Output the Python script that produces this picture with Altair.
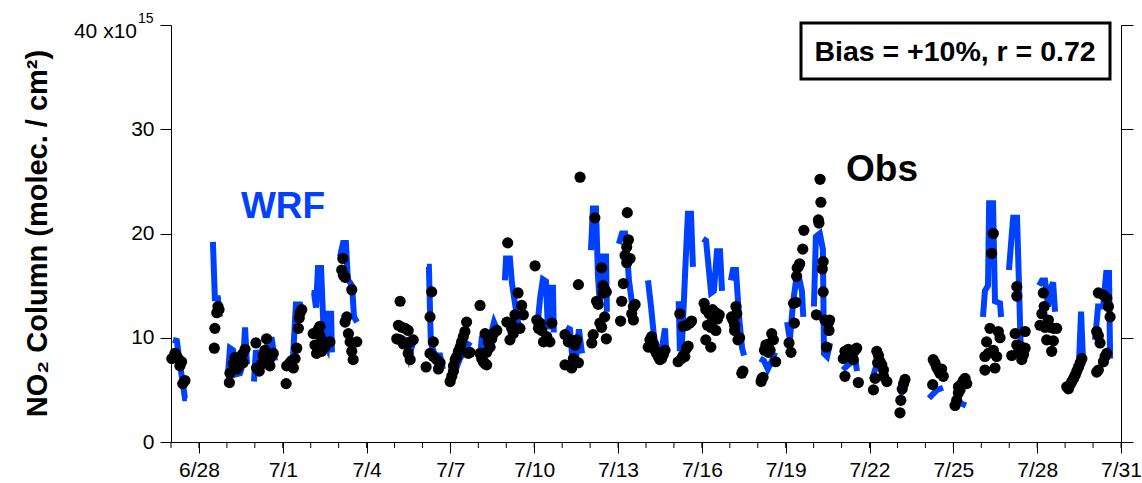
import altair as alt
import pandas as pd

# Time is given in days since 6/27 00:00; one inner list per day.
wrf_time = [
    [0.07, 0.21, 0.32, 0.50, 0.57],                                   # 6/27
    [1.50, 1.57, 1.68, 1.75],                                         # 6/28
    [2.04, 2.11, 2.22, 2.33, 2.47, 2.58, 2.65, 2.72],                 # 6/29
    [2.97, 3.04, 3.19, 3.36, 3.47, 3.61, 3.72],                       # 6/30
    [4.04, 4.22, 4.37, 4.47, 4.62, 4.69],                             # 7/1
    [5.03, 5.12, 5.19, 5.26, 5.37, 5.48, 5.58, 5.64, 5.73, 5.76],     # 7/2
    [6.05, 6.16, 6.26, 6.33, 6.48, 6.55, 6.66],                       # 7/3
    [8.23, 8.38, 8.52, 8.66],                                         # 7/5
    [9.16, 9.23, 9.30, 9.45, 9.63, 9.73],                             # 7/6
    [9.95, 10.17, 10.34, 10.52, 10.70],                               # 7/7
    [11.06, 11.13, 11.27, 11.42, 11.56, 11.67],                       # 7/8
    [11.95, 11.99, 12.13, 12.20, 12.31, 12.42, 12.49],                # 7/9
    [13.03, 13.10, 13.21, 13.31, 13.42, 13.49, 13.56, 13.67, 13.70],  # 7/10
    [14.14, 14.28, 14.35, 14.50, 14.60, 14.71],                       # 7/11
    [15.03, 15.10, 15.21, 15.28, 15.35, 15.46, 15.57, 15.60],         # 7/12
    [16.03, 16.14, 16.25, 16.32, 16.39, 16.50],                       # 7/13
    [17.07, 17.18, 17.29, 17.43, 17.57, 17.68, 17.72],                # 7/14
    [18.17, 18.21, 18.28, 18.36, 18.43, 18.50, 18.61, 18.68],         # 7/15
    [19.04, 19.15, 19.33, 19.43, 19.54, 19.65, 19.72],                # 7/16
    [20.04, 20.11, 20.22, 20.33, 20.44, 20.51],                       # 7/17
    [21.08, 21.22, 21.36, 21.51, 21.62],                              # 7/18
    [22.05, 22.15, 22.26, 22.37, 22.48, 22.58, 22.63],                # 7/19
    [23.01, 23.08, 23.22, 23.33, 23.37, 23.48, 23.59],                # 7/20
    [24.05, 24.19, 24.34, 24.48, 24.55],                              # 7/21
    [25.09, 25.23, 25.37, 25.52, 25.63],                              # 7/22
    [26.09, 26.20],                                                   # 7/23
    [27.13, 27.27, 27.42, 27.63],                                     # 7/24
    [28.13, 28.28, 28.45],                                            # 7/25
    [29.06, 29.13, 29.24, 29.28, 29.42, 29.49, 29.67, 29.71],         # 7/26
    [29.99, 30.14, 30.28, 30.35, 30.42, 30.53],                       # 7/27
    [31.07, 31.17, 31.28, 31.39, 31.49, 31.57, 31.64],                # 7/28
    [32.07, 32.21, 32.35, 32.50, 32.57, 32.64],                       # 7/29
    [33.07, 33.18, 33.36, 33.47, 33.57, 33.61],                       # 7/30
]
wrf_no2 = [
    [9.8, 9.7, 7.5, 4.2, 4.2],
    [19.2, 13.8, 13.8, 12.0],
    [6.5, 9.0, 8.8, 6.5, 6.6, 7.5, 11.0, 7.5],
    [5.8, 8.8, 7.0, 7.5, 9.8, 9.8, 7.8],
    [7.7, 7.2, 8.3, 13.2, 13.2, 12.4],
    [14.3, 14.3, 12.9, 16.7, 16.7, 9.5, 9.0, 12.3, 12.3, 8.6],
    [17.8, 19.1, 19.1, 15.6, 15.0, 12.0, 11.5],
    [10.0, 9.8, 8.2, 9.5],
    [16.8, 16.8, 9.5, 8.3, 8.3, 7.0],
    [5.5, 6.8, 8.0, 8.8, 9.6],
    [8.0, 10.2, 9.3, 10.0, 11.5, 10.8],
    [15.5, 17.6, 17.6, 15.3, 13.3, 11.5, 11.0],
    [12.0, 10.8, 13.8, 15.6, 15.4, 10.8, 14.8, 14.8, 10.5],
    [11.0, 10.8, 8.5, 8.0, 10.8, 8.5],
    [18.4, 22.4, 22.4, 16.0, 13.2, 17.8, 17.8, 12.5],
    [19.0, 20.0, 20.0, 18.2, 15.5, 13.3],
    [15.5, 13.0, 10.0, 8.8, 9.0, 10.9, 8.8],
    [13.5, 9.0, 9.0, 13.8, 18.0, 21.9, 21.9, 16.8],
    [19.5, 19.3, 14.3, 14.5, 18.3, 18.3, 14.5],
    [15.5, 16.5, 16.5, 12.0, 9.0, 8.3],
    [8.0, 7.8, 7.0, 7.8, 8.6],
    [11.5, 9.8, 13.3, 15.5, 15.7, 14.5, 12.0],
    [13.0, 19.7, 20.0, 18.5, 8.5, 8.2, 9.5],
    [6.9, 7.3, 7.6, 8.2, 6.8],
    [6.0, 7.2, 7.8, 6.8, 5.8],
    [5.0, 4.5],
    [4.2, 4.6, 5.0, 5.2],
    [4.0, 3.7, 3.5],
    [12.0, 14.5, 15.0, 22.9, 22.9, 13.5, 13.3, 12.0],
    [16.5, 21.5, 21.5, 15.0, 8.0, 8.0],
    [15.0, 15.5, 15.5, 13.0, 14.8, 15.3, 12.5],
    [5.0, 5.6, 6.5, 7.8, 12.5, 7.8],
    [9.8, 13.0, 13.0, 16.2, 16.2, 8.0],
]

obs_time = [
    [0.03, 0.14, 0.18, 0.26, 0.32, 0.38, 0.42, 0.50],
    [1.55, 1.57, 1.64, 1.68, 1.72],
    [2.09, 2.11, 2.23, 2.29, 2.36, 2.40, 2.47, 2.55, 2.58, 2.65],
    [3.04, 3.06, 3.16, 3.25, 3.30, 3.36, 3.42, 3.51, 3.54, 3.60, 3.66],
    [4.12, 4.14, 4.26, 4.32, 4.38, 4.44, 4.50, 4.56, 4.59, 4.62, 4.68],
    [5.09, 5.15, 5.21, 5.27, 5.33, 5.33, 5.39, 5.39, 5.45, 5.51, 5.57, 5.69],
    [6.11, 6.15, 6.17, 6.23, 6.23, 6.29, 6.35, 6.41, 6.47, 6.47, 6.52, 6.65],
    [8.08, 8.14, 8.20, 8.20, 8.26, 8.32, 8.38, 8.44, 8.49, 8.49, 8.56, 8.56, 8.67],
    [9.13, 9.27, 9.27, 9.33, 9.39, 9.39, 9.51, 9.57, 9.63],
    [9.99, 10.05, 10.11, 10.11, 10.17, 10.23, 10.29, 10.35, 10.40, 10.46, 10.52, 10.58, 10.64, 10.70],
    [11.06, 11.06, 11.12, 11.18, 11.24, 11.24, 11.30, 11.30, 11.36, 11.42, 11.48, 11.54, 11.66],
    [12.02, 12.05, 12.13, 12.19, 12.19, 12.25, 12.31, 12.42, 12.49, 12.55, 12.61],
    [13.03, 13.09, 13.15, 13.21, 13.27, 13.33, 13.45, 13.56, 13.63],
    [14.10, 14.10, 14.22, 14.28, 14.34, 14.40, 14.46, 14.46, 14.52, 14.58, 14.58, 14.64],
    [15.06, 15.11, 15.17, 15.23, 15.29, 15.35, 15.41, 15.41, 15.46, 15.46, 15.52, 15.52, 15.58, 15.58],
    [16.09, 16.13, 16.19, 16.25, 16.31, 16.31, 16.33, 16.37, 16.43, 16.49, 16.55, 16.55, 16.61],
    [17.08, 17.14, 17.20, 17.26, 17.32, 17.38, 17.44, 17.50, 17.50, 17.56, 17.62, 17.68],
    [18.15, 18.21, 18.27, 18.33, 18.33, 18.39, 18.45, 18.45, 18.51, 18.57, 18.63],
    [19.08, 19.14, 19.14, 19.20, 19.26, 19.32, 19.32, 19.38, 19.38, 19.50, 19.50, 19.56, 19.62],
    [20.06, 20.11, 20.17, 20.17, 20.22, 20.25, 20.29, 20.35, 20.43, 20.47],
    [21.12, 21.15, 21.19, 21.24, 21.29, 21.32, 21.38, 21.38, 21.44, 21.50, 21.56, 21.64],
    [22.12, 22.19, 22.28, 22.31, 22.36, 22.39, 22.41, 22.45, 22.50, 22.61, 22.65],
    [23.10, 23.17, 23.19, 23.23, 23.26, 23.31, 23.34, 23.34, 23.40, 23.46, 23.52, 23.55, 23.57],
    [24.06, 24.12, 24.12, 24.24, 24.30, 24.36, 24.42, 24.48, 24.54, 24.60],
    [25.14, 25.20, 25.26, 25.29, 25.32, 25.38, 25.44, 25.50, 25.50, 25.62],
    [26.09, 26.12, 26.17, 26.22, 26.27],
    [27.26, 27.28, 27.34, 27.40, 27.46, 27.52, 27.58, 27.64],
    [28.06, 28.12, 28.18, 28.18, 28.24, 28.30, 28.36, 28.42, 28.48],
    [29.13, 29.13, 29.19, 29.25, 29.31, 29.37, 29.43, 29.43, 29.49, 29.55, 29.61, 29.67],
    [30.09, 30.21, 30.27, 30.27, 30.27, 30.33, 30.39, 30.45, 30.51, 30.57, 30.57],
    [31.10, 31.17, 31.22, 31.25, 31.28, 31.34, 31.40, 31.46, 31.52, 31.58, 31.58, 31.70],
    [32.06, 32.12, 32.18, 32.24, 32.30, 32.36, 32.42, 32.48, 32.54, 32.60],
    [33.13, 33.13, 33.19, 33.19, 33.19, 33.25, 33.37, 33.37, 33.43, 33.49, 33.49, 33.55, 33.61],
]
obs_no2 = [
    [8.0, 8.5, 8.3, 8.0, 7.3, 7.7, 5.6, 5.9],
    [9.0, 10.9, 12.4, 13.0, 12.7],
    [5.7, 6.6, 7.5, 8.1, 7.0, 7.2, 7.9, 8.4, 7.6, 8.9],
    [9.5, 7.1, 6.8, 7.5, 8.3, 8.8, 9.9, 7.8, 7.3, 8.3, 8.5],
    [5.6, 7.3, 7.6, 7.8, 7.1, 8.0, 9.0, 10.9, 11.9, 12.4, 12.7],
    [10.4, 9.3, 8.5, 10.8, 10.2, 11.1, 9.8, 8.7, 9.6, 9.1, 9.5, 9.6],
    [16.5, 17.6, 16.0, 15.8, 11.5, 12.0, 10.4, 9.6, 14.6, 8.7, 7.9, 9.6],
    [9.9, 11.2, 13.5, 9.8, 11.0, 9.4, 10.9, 9.4, 10.7, 8.5, 9.6, 7.9, 9.8],
    [7.2, 12.0, 8.5, 14.4, 9.6, 8.2, 7.9, 7.0, 7.6],
    [5.8, 6.3, 6.8, 7.3, 7.9, 8.2, 8.7, 9.1, 9.6, 10.1, 10.6, 11.5, 8.5, 8.6],
    [13.1, 8.5, 8.0, 7.7, 7.5, 10.4, 7.4, 8.6, 9.6, 9.1, 9.9, 10.4, 10.7],
    [11.5, 19.1, 9.8, 11.3, 10.9, 10.4, 12.2, 14.3, 10.9, 13.1, 12.2],
    [16.9, 11.7, 10.9, 11.4, 10.7, 9.6, 10.1, 9.6, 11.4],
    [10.3, 7.4, 9.6, 9.8, 7.1, 8.0, 7.6, 9.3, 9.8, 7.6, 15.1, 25.4],
    [9.5, 10.3, 21.5, 13.5, 13.2, 11.4, 16.7, 11.0, 14.3, 15.0, 14.6, 12.0, 14.4, 9.9],
    [11.6, 13.5, 15.2, 17.9, 18.7, 17.2, 22.0, 19.4, 17.6, 12.3, 13.0, 11.7, 13.2],
    [9.1, 9.8, 10.1, 9.4, 8.8, 8.5, 8.2, 7.9, 8.3, 8.0, 8.4, 8.8],
    [7.7, 12.3, 8.0, 8.3, 11.1, 8.2, 9.0, 11.2, 9.2, 11.4, 11.6],
    [13.3, 12.7, 9.8, 11.2, 12.3, 11.0, 9.1, 12.7, 11.6, 12.4, 10.7, 11.8, 12.2],
    [12.0, 11.7, 11.2, 10.7, 13.0, 12.3, 9.8, 10.0, 6.6, 6.8],
    [5.8, 6.1, 6.2, 8.8, 9.3, 9.1, 9.4, 8.6, 8.8, 10.4, 9.8, 7.7],
    [9.5, 8.6, 13.3, 11.4, 13.4, 15.9, 16.7, 16.8, 17.1, 18.5, 20.3],
    [12.2, 21.3, 21.0, 25.2, 23.0, 16.6, 17.3, 14.4, 11.7, 9.1, 11.4, 10.7, 11.7],
    [8.0, 6.3, 8.7, 8.9, 8.2, 8.6, 7.9, 8.8, 9.0, 5.7],
    [5.0, 6.1, 8.7, 7.6, 8.3, 7.7, 7.4, 6.9, 6.3, 5.8],
    [2.8, 4.0, 5.1, 5.6, 6.0],
    [5.5, 7.9, 7.6, 7.2, 6.9, 6.6, 7.0, 6.3],
    [3.5, 4.0, 4.7, 5.3, 5.0, 5.6, 5.9, 6.1, 5.6],
    [8.2, 6.9, 9.6, 8.5, 10.9, 18.1, 20.0, 8.8, 7.1, 8.2, 10.6, 10.0],
    [8.3, 10.4, 14.9, 14.0, 9.3, 8.6, 9.2, 7.9, 8.4, 10.6, 9.0],
    [11.2, 12.3, 14.3, 13.0, 11.0, 9.8, 11.7, 11.0, 8.7, 10.9, 9.7, 10.9],
    [5.3, 5.1, 5.5, 5.8, 6.1, 6.4, 6.8, 7.2, 7.6, 8.0],
    [10.6, 6.7, 14.3, 10.2, 6.9, 9.5, 14.1, 7.7, 8.2, 13.8, 8.5, 13.0, 12.0],
]

y_ticks = [0, 10, 20, 30, 40]
label_days = list(range(1, 35, 3))      # 6/28, 7/1, ... 7/31
all_days = list(range(0, 35))           # one small tick per day

BLUE = "#0040ff"
FONT = "Liberation Sans"
W, H = 950, 417


def frame(times, values, run_key=None):
    rows = []
    for i, (ts, vs) in enumerate(zip(times, values)):
        assert len(ts) == len(vs), (i, len(ts), len(vs))
        for t, v in zip(ts, vs):
            row = {"t": t, "no2": v}
            if run_key:
                row[run_key] = i
            rows.append(row)
    return pd.DataFrame(rows)


wrf_df = frame(wrf_time, wrf_no2, "run")
obs_df = frame(obs_time, obs_no2)

x_scale = alt.Scale(domain=[0, 34], nice=False, zero=False)
y_scale = alt.Scale(domain=[0, 40], nice=False)

x_axis = alt.Axis(
    values=label_days,
    labelExpr="datum.value <= 3 ? '6/' + (27 + datum.value) : '7/' + (datum.value - 3)",
    title=None, grid=False, tickSize=11, labelPadding=6,
    labelFont=FONT, labelFontSize=21, labelColor="black",
    labelFlush=False, labelOverlap=False,
    domainColor="black", tickColor="black",
)
y_axis_left = alt.Axis(
    values=y_ticks,
    labelExpr="datum.value == 40 ? '' : datum.label",
    grid=False, tickSize=11, labelPadding=6,
    labelFont=FONT, labelFontSize=21, labelColor="black",
    labelFlush=False, domainColor="black", tickColor="black",
    title="NO\u2082 Column (molec. / cm\u00b2)",
    titleFont=FONT, titleFontSize=29, titleFontWeight="bold", titleColor="black",
    titleAngle=270, titleX=-134, titleY=208, titleAlign="center", titleBaseline="middle",
)
y_axis_right = alt.Axis(
    orient="right", values=y_ticks, labels=False, title=None, grid=False,
    tickSize=12, domainColor="black", tickColor="black",
)

X = alt.X("t:Q", scale=x_scale, axis=x_axis)

wrf = alt.Chart(wrf_df).mark_line(
    color=BLUE, strokeWidth=6, strokeCap="butt", strokeJoin="miter"
).encode(
    x=X,
    y=alt.Y("no2:Q", scale=y_scale, axis=y_axis_left),
    detail="run:N",
)

obs = alt.Chart(obs_df).mark_circle(color="black", opacity=1, size=125).encode(
    x=X,
    y=alt.Y("no2:Q", scale=y_scale, axis=y_axis_right),
)

minor = alt.Chart(pd.DataFrame({"t": all_days})).mark_rule(
    color="black", strokeWidth=1
).encode(x=X, y=alt.value(H), y2=alt.value(H + 6))

one = pd.DataFrame({"k": [0]})


def label(text, x, y, size, color="black", weight="normal", align="center"):
    return alt.Chart(one).mark_text(
        text=text, font=FONT, fontSize=size, fontWeight=weight, color=color,
        align=align, baseline="middle",
    ).encode(x=alt.value(x), y=alt.value(y))


top_label = label("40 x10", -34, 7, 21, align="right")
top_exp = label("15", -33, -6, 14, align="left")
wrf_tag = label("WRF", 112, 182, 37, color=BLUE, weight="bold")
obs_tag = label("Obs", 711, 145, 37, weight="bold")

box = alt.Chart(one).mark_rect(fill="white", stroke="black", strokeWidth=3).encode(
    x=alt.value(630), x2=alt.value(939), y=alt.value(-2), y2=alt.value(54)
)
box_text = label("Bias = +10%, r = 0.72", 784, 27, 28.5, weight="bold")

chart = alt.layer(
    wrf, obs, minor, top_label, top_exp, wrf_tag, obs_tag, box, box_text
).resolve_axis(y="independent").properties(
    width=W, height=H,
    autosize=alt.AutoSizeParams(type="none"),
    padding={"left": 171, "top": 25, "right": 21, "bottom": 41},
    background="white",
).configure_view(stroke="transparent")

chart.save("out.html", embed_options={"renderer": "svg", "actions": False})
